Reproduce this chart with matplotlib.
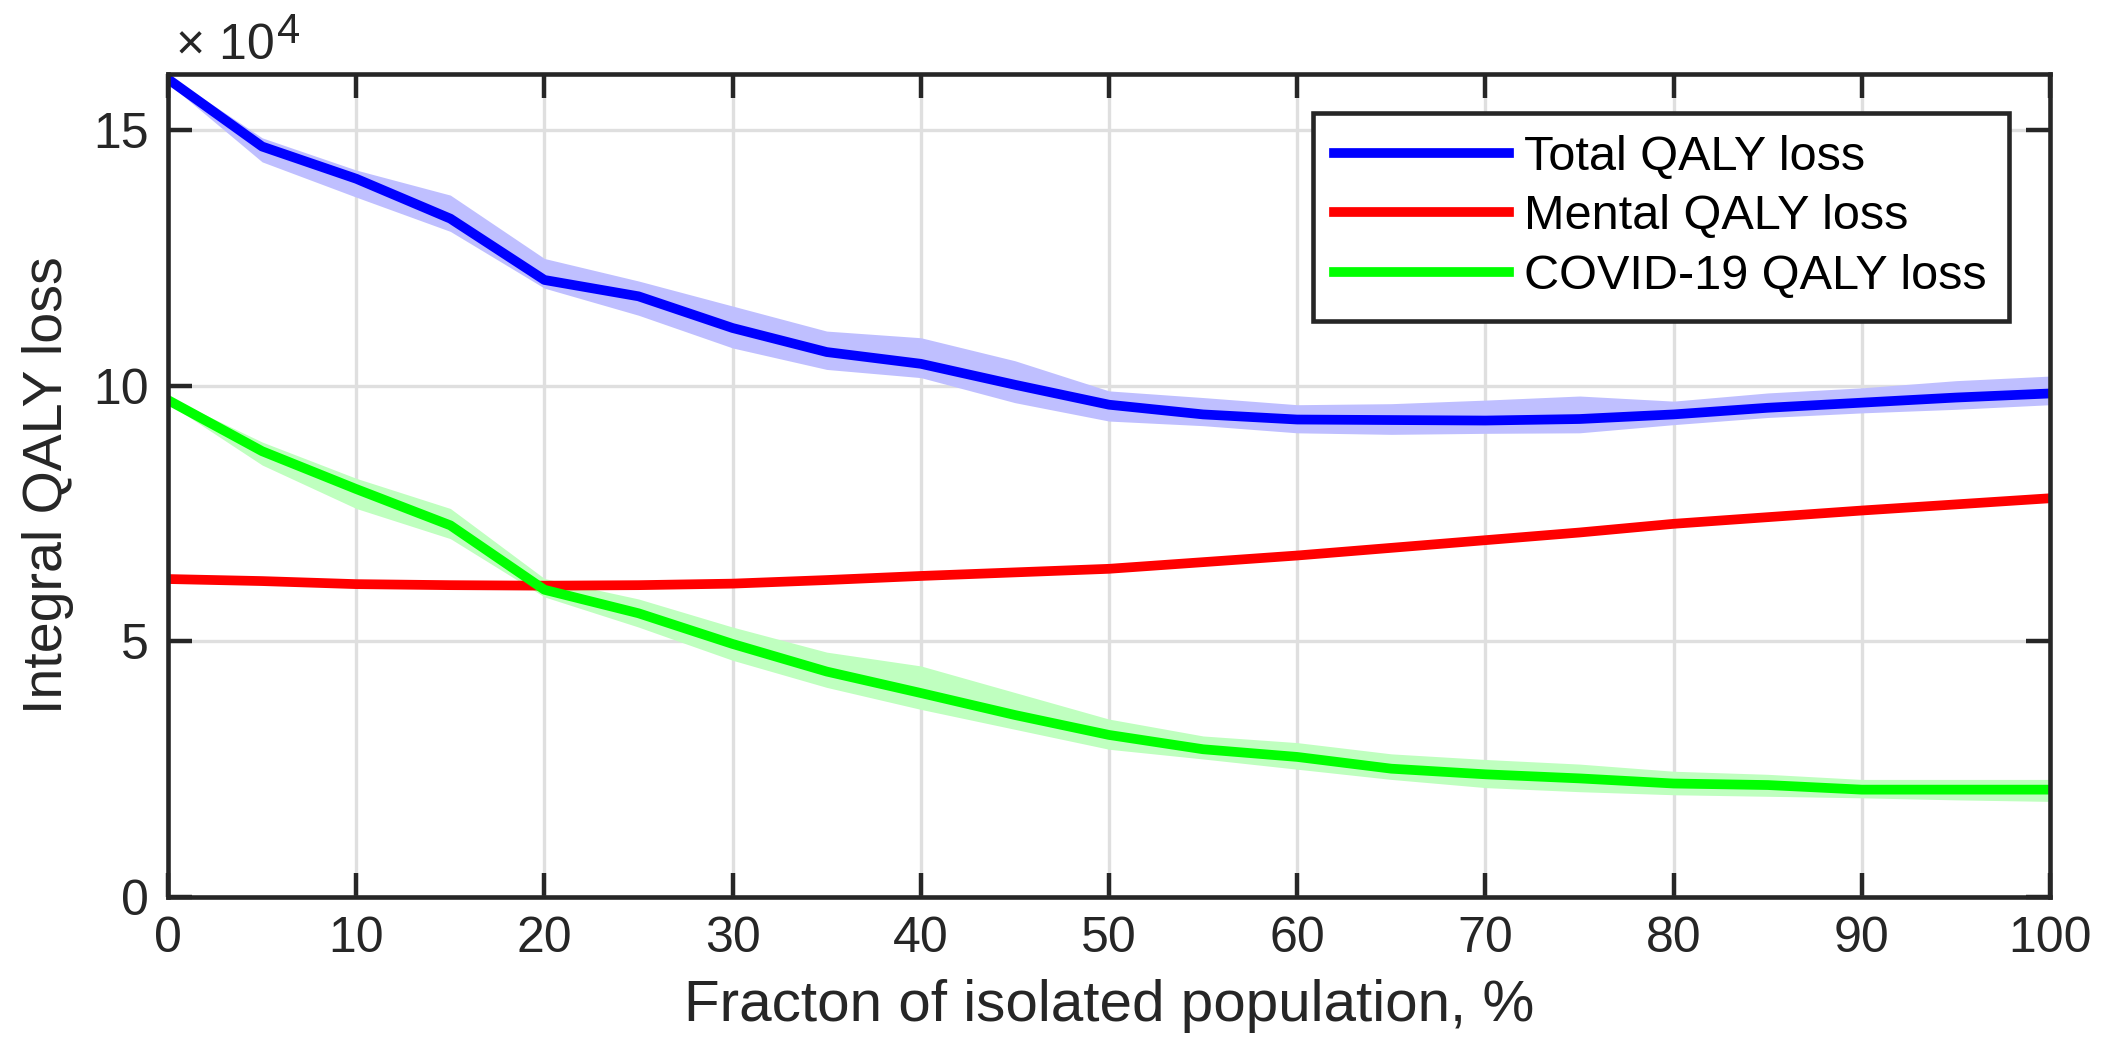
import numpy as np
import matplotlib.pyplot as plt

plt.rcParams['font.family'] = ['Liberation Sans', 'DejaVu Sans']

# fraction of isolated population, %
x = [0, 5, 10, 15, 20, 25, 30, 35, 40, 45, 50, 55, 60, 65, 70, 75, 80, 85, 90, 95, 100]

# QALY loss, x 10^4
total = [16.0, 14.68, 14.05, 13.27, 12.07, 11.75, 11.13, 10.66, 10.43, 10.02, 9.63, 9.44, 9.34, 9.33,
         9.32, 9.35, 9.44, 9.57, 9.67, 9.77, 9.85]
total_hi = [16.08, 14.85, 14.22, 13.73, 12.49, 12.05, 11.56, 11.07, 10.94, 10.49, 9.9, 9.77, 9.63, 9.65,
            9.72, 9.8, 9.7, 9.86, 9.96, 10.1, 10.19]
total_lo = [15.92, 14.38, 13.69, 13.02, 11.91, 11.38, 10.74, 10.32, 10.16, 9.67, 9.31, 9.22, 9.08, 9.05,
            9.07, 9.08, 9.24, 9.38, 9.47, 9.54, 9.63]

mental = [6.22, 6.18, 6.12, 6.1, 6.09, 6.1, 6.13, 6.2, 6.28, 6.35, 6.42, 6.55, 6.68, 6.83,
          6.98, 7.13, 7.3, 7.43, 7.56, 7.68, 7.8]

covid = [9.72, 8.72, 7.98, 7.27, 6.01, 5.55, 4.95, 4.41, 3.99, 3.56, 3.17, 2.89, 2.74, 2.51,
         2.4, 2.32, 2.22, 2.19, 2.1, 2.1, 2.1]
covid_hi = [9.78, 8.9, 8.19, 7.6, 6.23, 5.83, 5.28, 4.79, 4.52, 4.0, 3.48, 3.15, 3.02, 2.8,
            2.69, 2.6, 2.46, 2.4, 2.3, 2.3, 2.3]
covid_lo = [9.66, 8.45, 7.6, 7.01, 5.87, 5.28, 4.63, 4.1, 3.67, 3.28, 2.89, 2.7, 2.5, 2.3,
            2.14, 2.06, 2.0, 1.97, 1.94, 1.9, 1.87]

labels = ['Total QALY loss', 'Mental QALY loss', 'COVID-19 QALY loss']

dark = '#262626'
fig = plt.figure(figsize=(21.06, 10.49), dpi=100)
ax = fig.add_axes([0.0798, 0.1449, 0.8936, 0.7846])

ax.fill_between(x, total_lo, total_hi, color='#bfbfff', lw=0)
ax.fill_between(x, covid_lo, covid_hi, color='#bfffbf', lw=0)
ax.plot(x, total, color='#0000ff', lw=7, label=labels[0])
ax.plot(x, mental, color='#ff0000', lw=7, label=labels[1])
ax.plot(x, covid, color='#00ff00', lw=7, label=labels[2])

ax.set_xlim(0, 100)
ax.set_ylim(0, 16.1)
ax.set_xticks(range(0, 101, 10))
ax.set_yticks([0, 5, 10, 15])
ax.grid(True, color='#dfdfdf', lw=2.4)
ax.set_axisbelow(True)
ax.tick_params(direction='in', length=17, width=3.2, top=True, right=True,
               labelsize=36, colors=dark, pad=14)
for s in ax.spines.values():
    s.set_linewidth(3.3)
    s.set_color(dark)

ax.set_xlabel('Fracton of isolated population, %', fontsize=42, color=dark, labelpad=12)
ax.set_ylabel('Integral QALY loss', fontsize=40, color=dark, labelpad=14)

# exponent label above the y axis
t1 = ax.text(0.004, 1.006, '\u00d7 10', transform=ax.transAxes, fontsize=36,
             color=dark, ha='left', va='bottom')
ax.annotate('4', xy=(1.0, 0.38), xycoords=t1, xytext=(2, 0), textcoords='offset points',
            fontsize=30, color=dark, ha='left', va='bottom')

leg = ax.legend(loc='upper right', bbox_to_anchor=(0.978, 0.9526), fontsize=35, frameon=True,
                fancybox=False, borderaxespad=0, handlelength=3.6, handletextpad=0.3,
                labelspacing=0.3, borderpad=0.45)
leg.get_frame().set_edgecolor(dark)
leg.get_frame().set_linewidth(3.3)
leg.get_frame().set_alpha(1)

fig.savefig('out.png', dpi=100)
